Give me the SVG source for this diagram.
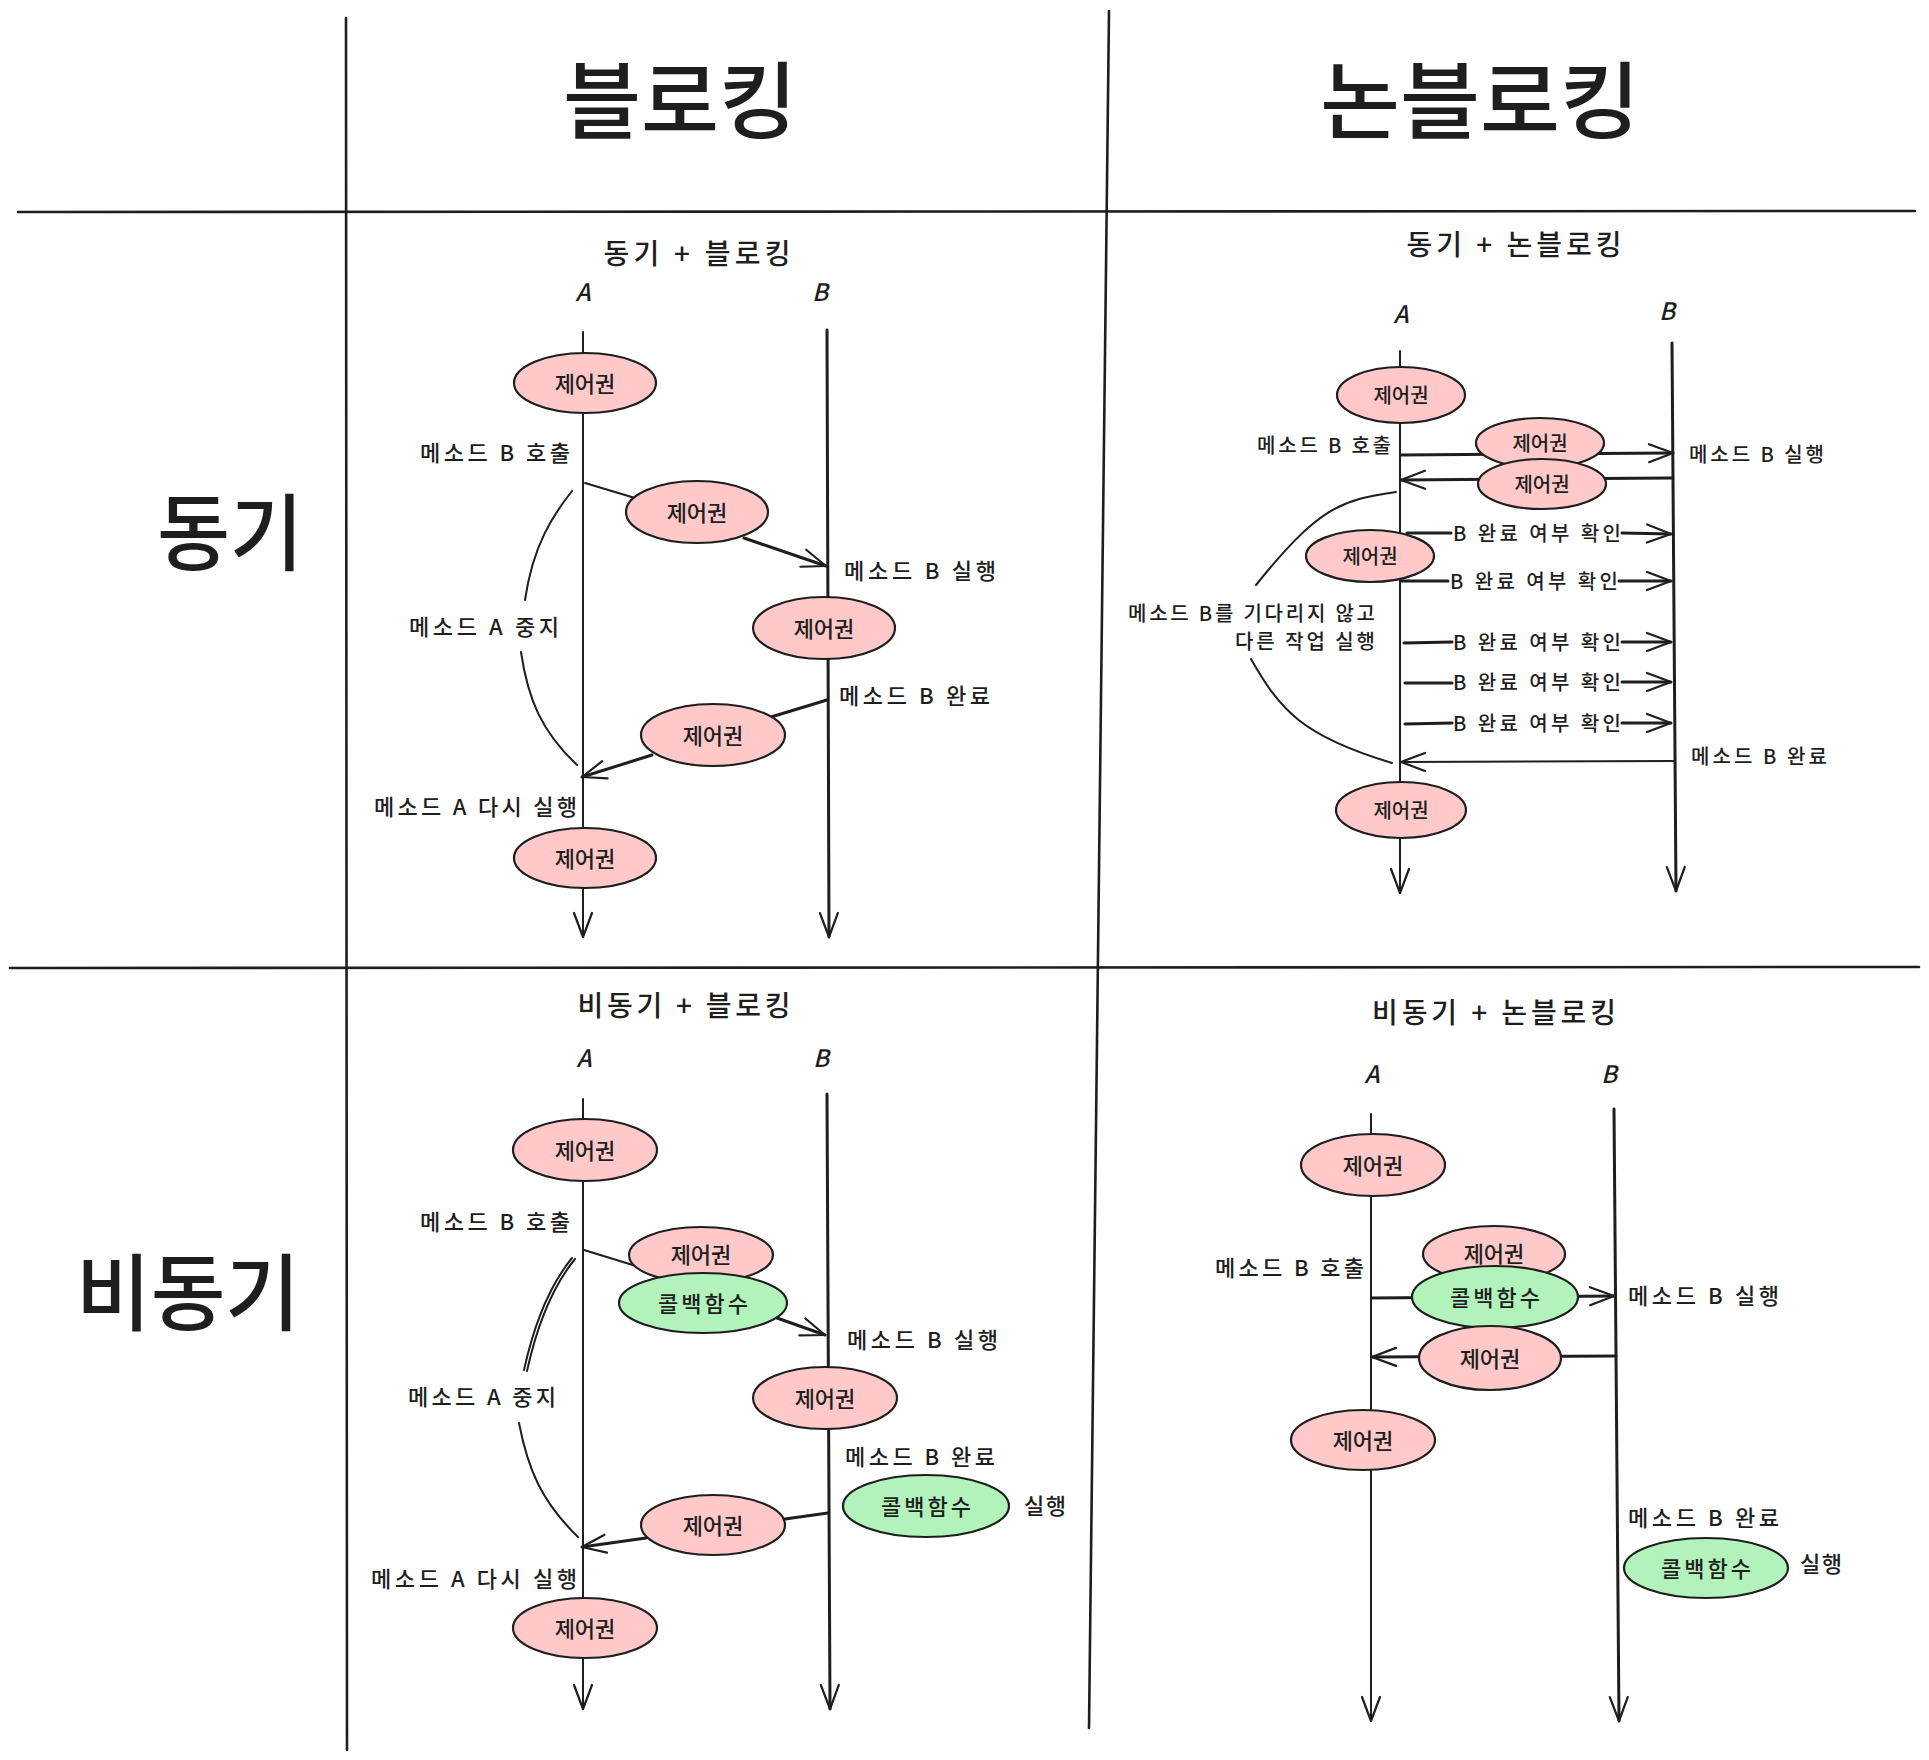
<svg xmlns="http://www.w3.org/2000/svg" width="1929" height="1760" viewBox="0 0 1929 1760">
<style>
.bg{fill:#ffffff}
.grid{stroke:#1e1e1e;stroke-width:2.6;fill:none;stroke-linecap:round}
.ln{stroke:#1e1e1e;stroke-width:2;fill:none;stroke-linecap:round}
.th{stroke-width:3}
.pk{fill:#ffc9c9;stroke:#1e1e1e;stroke-width:2.2}
.gr{fill:#b2f2bb;stroke:#1e1e1e;stroke-width:2.2}
.t{font-family:"Noto Sans CJK KR","Noto Sans",sans-serif;fill:#1e1e1e;dominant-baseline:central;font-weight:500}
.l22{font-size:22px}
.l20{font-size:20px}
.ab{font-size:24px;font-style:italic}
.ttl{font-size:28px;text-anchor:middle}
.hd{font-size:84px;text-anchor:middle;font-weight:500}
.c{text-anchor:middle}
.e{text-anchor:end}
</style>
<defs>
<marker id="arr" markerUnits="userSpaceOnUse" markerWidth="40" markerHeight="40" refX="0" refY="0" orient="auto" overflow="visible">
<path d="M-24,-9 L0,0 L-24,9" fill="none" stroke="#1e1e1e" stroke-width="2.2" stroke-linecap="round" stroke-linejoin="round"/>
</marker>
</defs>
<rect class="bg" x="0" y="0" width="1929" height="1760"/>

<g id="grid">
<line class="grid" x1="346" y1="18" x2="347" y2="1750"/>
<line class="grid" x1="1109" y1="11" x2="1089" y2="1728"/>
<line class="grid" x1="18" y1="212" x2="1915" y2="211"/>
<line class="grid" x1="10" y1="968" x2="1919" y2="967"/>
</g>

<g id="headers">
<text class="t hd" x="680" y="95" textLength="234" lengthAdjust="spacingAndGlyphs">블로킹</text>
<text class="t hd" x="1480" y="95" textLength="320" lengthAdjust="spacingAndGlyphs">논블로킹</text>
<text class="t hd" x="230" y="527" textLength="146" lengthAdjust="spacingAndGlyphs">동기</text>
<text class="t hd" x="188" y="1287" textLength="224" lengthAdjust="spacingAndGlyphs">비동기</text>
</g>

<g id="connectors">
<!-- Q1 -->
<line class="ln" x1="583" y1="332" x2="583" y2="937" marker-end="url(#arr)"/>
<line class="ln th" x1="827" y1="330" x2="829" y2="937" marker-end="url(#arr)"/>
<line class="ln" x1="585" y1="483" x2="635" y2="498"/>
<line class="ln th" x1="744" y1="538" x2="826" y2="566" marker-end="url(#arr)"/>
<line class="ln th" x1="827" y1="700" x2="771" y2="717"/>
<line class="ln th" x1="652" y1="755" x2="582" y2="777" marker-end="url(#arr)"/>
<path class="ln" d="M572,491 C553,515 533,545 525,600"/>
<path class="ln" d="M521,652 C528,700 542,732 577,765"/>
<!-- Q2 -->
<line class="ln" x1="1400" y1="351" x2="1400" y2="893" marker-end="url(#arr)"/>
<line class="ln th" x1="1672" y1="343" x2="1676" y2="891" marker-end="url(#arr)"/>
<line class="ln th" x1="1401" y1="455" x2="1673" y2="453" marker-end="url(#arr)"/>
<line class="ln th" x1="1672" y1="478" x2="1401" y2="480" marker-end="url(#arr)"/>
<line class="ln th" x1="1407" y1="533" x2="1451" y2="533"/>
<line class="ln th" x1="1622" y1="533" x2="1671" y2="534" marker-end="url(#arr)"/>
<line class="ln th" x1="1402" y1="581" x2="1448" y2="581"/>
<line class="ln th" x1="1619" y1="581" x2="1671" y2="581" marker-end="url(#arr)"/>
<line class="ln th" x1="1404" y1="643" x2="1452" y2="642"/>
<line class="ln th" x1="1622" y1="642" x2="1671" y2="642" marker-end="url(#arr)"/>
<line class="ln th" x1="1405" y1="683" x2="1452" y2="683"/>
<line class="ln th" x1="1622" y1="682" x2="1671" y2="682" marker-end="url(#arr)"/>
<line class="ln th" x1="1405" y1="724" x2="1452" y2="723"/>
<line class="ln th" x1="1622" y1="723" x2="1671" y2="723" marker-end="url(#arr)"/>
<line class="ln" x1="1675" y1="761" x2="1401" y2="762" marker-end="url(#arr)"/>
<path class="ln" d="M1396,492 C1340,500 1318,508 1256,585"/>
<path class="ln" d="M1251,659 C1280,710 1302,736 1392,763"/>
<!-- Q3 -->
<line class="ln" x1="583" y1="1099" x2="583" y2="1709" marker-end="url(#arr)"/>
<line class="ln th" x1="827" y1="1094" x2="830" y2="1709" marker-end="url(#arr)"/>
<line class="ln" x1="584" y1="1250" x2="636" y2="1266"/>
<line class="ln th" x1="777" y1="1318" x2="825" y2="1335" marker-end="url(#arr)"/>
<line class="ln th" x1="828" y1="1513" x2="785" y2="1519"/>
<line class="ln th" x1="646" y1="1538" x2="582" y2="1547" marker-end="url(#arr)"/>
<path class="ln" d="M572,1258 C550,1285 535,1320 524,1370"/>
<path class="ln" d="M575,1259 C553,1286 538,1321 527,1371" stroke-width="1.4"/>
<path class="ln" d="M519,1423 C528,1470 542,1502 578,1537"/>
<!-- Q4 -->
<line class="ln" x1="1371" y1="1114" x2="1371" y2="1721" marker-end="url(#arr)"/>
<line class="ln th" x1="1614" y1="1109" x2="1619" y2="1721" marker-end="url(#arr)"/>
<line class="ln th" x1="1372" y1="1298" x2="1614" y2="1296" marker-end="url(#arr)"/>
<line class="ln th" x1="1616" y1="1356" x2="1372" y2="1357" marker-end="url(#arr)"/>
</g>

<g id="q1">
<text class="t ttl" x="697" y="252" textLength="187">동기 + 블로킹</text>
<text class="t ab c" x="583" y="290">A</text>
<text class="t ab c" x="820" y="290">B</text>
<g id="q1-n1"><ellipse class="pk" cx="585" cy="383" rx="71" ry="30"/><text class="t l22 c" x="585" y="382">제어권</text></g>
<text class="t l22 e" x="570" y="451" textLength="150">메소드 B 호출</text>
<g id="q1-n2"><ellipse class="pk" cx="697" cy="512" rx="71" ry="31"/><text class="t l22 c" x="697" y="511">제어권</text></g>
<text class="t l22" x="844" y="569" textLength="152">메소드 B 실행</text>
<g id="q1-n3"><ellipse class="pk" cx="824" cy="628" rx="71" ry="31"/><text class="t l22 c" x="824" y="627">제어권</text></g>
<text class="t l22 e" x="559" y="625" textLength="150">메소드 A 중지</text>
<text class="t l22" x="839" y="694" textLength="151">메소드 B 완료</text>
<g id="q1-n4"><ellipse class="pk" cx="713" cy="735" rx="72" ry="31"/><text class="t l22 c" x="713" y="734">제어권</text></g>
<text class="t l22 e" x="577" y="805" textLength="203">메소드 A 다시 실행</text>
<g id="q1-n5"><ellipse class="pk" cx="585" cy="858" rx="71" ry="30"/><text class="t l22 c" x="585" y="857">제어권</text></g>
</g>

<g id="q2">
<text class="t ttl" x="1514" y="243" textLength="215">동기 + 논블로킹</text>
<text class="t ab c" x="1401" y="312">A</text>
<text class="t ab c" x="1667" y="309">B</text>
<g id="q2-n1"><ellipse class="pk" cx="1401" cy="395" rx="64" ry="28"/><text class="t l20 c" x="1401" y="394">제어권</text></g>
<text class="t l20 e" x="1391" y="444" textLength="134">메소드 B 호출</text>
<g id="q2-n2"><ellipse class="pk" cx="1540" cy="443" rx="64" ry="25"/><text class="t l20 c" x="1540" y="442">제어권</text></g>
<text class="t l20" x="1689" y="453" textLength="135">메소드 B 실행</text>
<g id="q2-n3"><ellipse class="pk" cx="1542" cy="484" rx="64" ry="25"/><text class="t l20 c" x="1542" y="483">제어권</text></g>
<g id="q2-n4"><ellipse class="pk" cx="1370" cy="556" rx="64" ry="26"/><text class="t l20 c" x="1370" y="555">제어권</text></g>
<text class="t l20" x="1453" y="532" textLength="168">B 완료 여부 확인</text>
<text class="t l20" x="1450" y="580" textLength="168">B 완료 여부 확인</text>
<text class="t l20" x="1453" y="641" textLength="168">B 완료 여부 확인</text>
<text class="t l20" x="1453" y="681" textLength="168">B 완료 여부 확인</text>
<text class="t l20" x="1453" y="722" textLength="168">B 완료 여부 확인</text>
<text class="t l20 e" x="1375" y="612" textLength="247">메소드 B를 기다리지 않고</text>
<text class="t l20 e" x="1375" y="640" textLength="140">다른 작업 실행</text>
<text class="t l20" x="1691" y="755" textLength="136">메소드 B 완료</text>
<g id="q2-n5"><ellipse class="pk" cx="1401" cy="810" rx="65" ry="28"/><text class="t l20 c" x="1401" y="809">제어권</text></g>
</g>

<g id="q3">
<text class="t ttl" x="684" y="1004" textLength="213">비동기 + 블로킹</text>
<text class="t ab c" x="584" y="1056">A</text>
<text class="t ab c" x="821" y="1056">B</text>
<g id="q3-n1"><ellipse class="pk" cx="585" cy="1150" rx="72" ry="31"/><text class="t l22 c" x="585" y="1149">제어권</text></g>
<text class="t l22 e" x="570" y="1220" textLength="150">메소드 B 호출</text>
<g id="q3-n2"><ellipse class="pk" cx="701" cy="1255" rx="72" ry="28"/><text class="t l22 c" x="701" y="1253">제어권</text></g>
<g id="q3-g1"><ellipse class="gr" cx="703" cy="1303" rx="84" ry="30"/><text class="t l22 c" x="703" y="1302" textLength="90">콜백함수</text></g>
<text class="t l22" x="847" y="1338" textLength="151">메소드 B 실행</text>
<g id="q3-n3"><ellipse class="pk" cx="825" cy="1398" rx="72" ry="31"/><text class="t l22 c" x="825" y="1397">제어권</text></g>
<text class="t l22 e" x="556" y="1395" textLength="148">메소드 A 중지</text>
<text class="t l22" x="845" y="1455" textLength="150">메소드 B 완료</text>
<g id="q3-g2"><ellipse class="gr" cx="926" cy="1506" rx="83" ry="31"/><text class="t l22 c" x="926" y="1505" textLength="90">콜백함수</text></g>
<text class="t l22" x="1024" y="1504" textLength="42">실행</text>
<g id="q3-n4"><ellipse class="pk" cx="713" cy="1525" rx="72" ry="30"/><text class="t l22 c" x="713" y="1524">제어권</text></g>
<text class="t l22 e" x="577" y="1577" textLength="206">메소드 A 다시 실행</text>
<g id="q3-n5"><ellipse class="pk" cx="585" cy="1628" rx="72" ry="30"/><text class="t l22 c" x="585" y="1627">제어권</text></g>
</g>

<g id="q4">
<text class="t ttl" x="1494" y="1011" textLength="244">비동기 + 논블로킹</text>
<text class="t ab c" x="1372" y="1072">A</text>
<text class="t ab c" x="1609" y="1072">B</text>
<g id="q4-n1"><ellipse class="pk" cx="1373" cy="1165" rx="72" ry="31"/><text class="t l22 c" x="1373" y="1164">제어권</text></g>
<text class="t l22" x="1215" y="1266" textLength="149">메소드 B 호출</text>
<g id="q4-n2"><ellipse class="pk" cx="1494" cy="1254" rx="71" ry="28"/><text class="t l22 c" x="1494" y="1252">제어권</text></g>
<g id="q4-g1"><ellipse class="gr" cx="1495" cy="1297" rx="83" ry="31"/><text class="t l22 c" x="1495" y="1296" textLength="90">콜백함수</text></g>
<text class="t l22" x="1628" y="1294" textLength="151">메소드 B 실행</text>
<g id="q4-n3"><ellipse class="pk" cx="1490" cy="1358" rx="71" ry="32"/><text class="t l22 c" x="1490" y="1357">제어권</text></g>
<g id="q4-n4"><ellipse class="pk" cx="1363" cy="1440" rx="72" ry="30"/><text class="t l22 c" x="1363" y="1439">제어권</text></g>
<text class="t l22" x="1628" y="1516" textLength="151">메소드 B 완료</text>
<g id="q4-g2"><ellipse class="gr" cx="1706" cy="1568" rx="82" ry="30"/><text class="t l22 c" x="1706" y="1567" textLength="90">콜백함수</text></g>
<text class="t l22" x="1800" y="1562" textLength="42">실행</text>
</g>
</svg>
